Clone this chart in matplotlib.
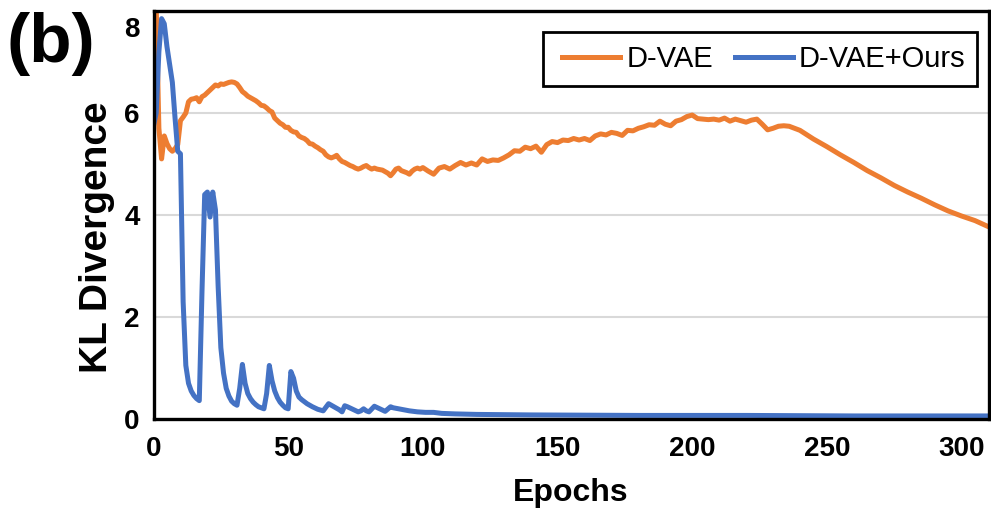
import matplotlib
matplotlib.use("Agg")
import matplotlib.pyplot as plt
from matplotlib.patches import Rectangle
from matplotlib.transforms import ScaledTranslation

plt.rcParams['font.family'] = ['Liberation Sans', 'DejaVu Sans']

# D-VAE: KL divergence per epoch
dvae_epochs = [0, 1, 2, 3, 4, 5, 6, 7, 8, 9, 10, 11, 12, 13, 14, 15, 16, 17, 18, 19,
               20, 21, 22, 23, 24, 25, 26, 27, 28, 29, 30, 31, 32, 33, 34, 35, 36, 37,
               38, 39, 40, 41, 42, 43, 44, 45, 46, 47, 48, 49, 50, 51, 52, 53, 54, 55,
               56, 57, 58, 59, 60, 61, 62, 63, 64, 65, 66, 67, 68, 69, 70, 71, 72, 73,
               74, 75, 76, 77, 78, 79, 80, 81, 82, 83, 84, 85, 86, 87, 88, 89, 90, 91,
               92, 93, 94, 95, 96, 97, 98, 99,
               100, 102, 104, 106, 108, 110, 112, 114, 116, 118, 120, 122, 124, 126,
               128, 130, 132, 134, 136, 138, 140, 142, 144, 146, 148, 150, 152, 154,
               156, 158, 160, 162, 164, 166, 168, 170, 172, 174, 176, 178, 180, 182,
               184, 186, 188, 190, 192, 194, 196, 198, 200, 202, 204, 206, 208, 210,
               212, 214, 216, 218, 220, 222, 224, 226, 228, 230, 232, 234, 236, 238,
               240, 245, 250, 255, 260, 265, 270, 275, 280, 285, 290, 295, 300, 305, 310]
dvae_kl = [8.6, 8.1, 5.7, 5.1, 5.55, 5.4, 5.3, 5.25, 5.3, 5.38, 5.85, 5.92, 6.0, 6.22,
           6.27, 6.28, 6.3, 6.22, 6.32, 6.35, 6.4, 6.45, 6.5, 6.55, 6.53, 6.57, 6.56,
           6.58, 6.6, 6.61, 6.6, 6.57, 6.5, 6.42, 6.38, 6.33, 6.3, 6.27, 6.24, 6.2,
           6.15, 6.14, 6.1, 6.05, 6.02, 5.9, 5.85, 5.8, 5.77, 5.72, 5.72, 5.66, 5.63,
           5.62, 5.55, 5.52, 5.5, 5.46, 5.4, 5.39, 5.35, 5.32, 5.28, 5.25, 5.18, 5.14,
           5.12, 5.14, 5.17, 5.1, 5.05, 5.03, 5.0, 4.97, 4.95, 4.92, 4.9, 4.92, 4.95,
           4.97, 4.93, 4.9, 4.92, 4.9, 4.89, 4.88, 4.85, 4.82, 4.77, 4.83, 4.9, 4.92,
           4.87, 4.85, 4.83, 4.8, 4.86, 4.9, 4.92, 4.9,
           4.93, 4.86, 4.8, 4.92, 4.95, 4.9, 4.97, 5.03, 4.98, 5.02, 4.98, 5.1, 5.05,
           5.08, 5.07, 5.12, 5.18, 5.26, 5.25, 5.33, 5.3, 5.35, 5.23, 5.38, 5.44, 5.42,
           5.47, 5.46, 5.5, 5.47, 5.5, 5.46, 5.55, 5.59, 5.57, 5.62, 5.6, 5.56, 5.66,
           5.65, 5.7, 5.73, 5.77, 5.76, 5.84, 5.78, 5.75, 5.84, 5.87, 5.93, 5.96, 5.89,
           5.88, 5.87, 5.88, 5.86, 5.9, 5.84, 5.88, 5.85, 5.82, 5.86, 5.88, 5.78, 5.67,
           5.7, 5.74, 5.75, 5.74, 5.7, 5.66, 5.49, 5.34, 5.18, 5.03, 4.87, 4.73, 4.58,
           4.45, 4.33, 4.2, 4.08, 3.98, 3.89, 3.77]

# D-VAE+Ours: KL divergence per epoch
ours_epochs = [0, 1, 2, 3, 4, 5, 6, 7, 8, 9, 10, 11, 12, 13, 14, 15, 16, 17, 18, 19,
               20, 21, 22, 23, 24, 25, 26, 27, 28, 29, 30, 31, 32, 33, 34, 35, 36, 37,
               38, 39, 40, 41, 42, 43, 44, 45, 46, 47, 48, 49, 50, 51, 52, 53, 54, 55,
               57, 59, 61, 63, 65, 67, 69, 70, 71, 72, 74, 76, 77, 78, 79, 80, 82, 84,
               86, 88, 89, 91, 93, 95, 98, 101, 104, 107, 112, 120, 140, 180, 220, 260,
               310]
ours_kl = [5.75, 6.0, 7.2, 7.85, 7.75, 7.3, 6.95, 6.6, 5.9, 5.25, 5.2, 2.3, 1.05, 0.7,
           0.55, 0.46, 0.4, 0.36, 2.5, 4.4, 4.45, 3.96, 4.45, 4.1, 2.6, 1.4, 0.9, 0.6,
           0.45, 0.35, 0.3, 0.27, 0.6, 1.07, 0.7, 0.5, 0.4, 0.33, 0.28, 0.24, 0.22, 0.2,
           0.5, 1.05, 0.75, 0.55, 0.42, 0.33, 0.27, 0.22, 0.2, 0.93, 0.8, 0.55, 0.43,
           0.38, 0.3, 0.24, 0.19, 0.16, 0.3, 0.24, 0.18, 0.14, 0.26, 0.24, 0.19, 0.14,
           0.16, 0.2, 0.16, 0.14, 0.25, 0.2, 0.15, 0.24, 0.22, 0.2, 0.18, 0.16, 0.14,
           0.13, 0.13, 0.11, 0.1, 0.09, 0.08, 0.07, 0.07, 0.06, 0.06]

y_ticks = [0, 2, 4, 6, 8]
x_ticks = [0, 50, 100, 150, 200, 250, 300]

W, H = 991, 511
fig = plt.figure(figsize=(W / 100, H / 100), dpi=100)
ax = fig.add_axes([153.5 / W, (H - 419) / H, (988.5 - 153.5) / W, (419 - 11) / H])

ax.plot(dvae_epochs, dvae_kl, color='#ED7D31', lw=3.6, label='D-VAE',
        solid_joinstyle='round', zorder=3)
ax.plot(ours_epochs, ours_kl, color='#4472C4', lw=3.6, label='D-VAE+Ours',
        solid_joinstyle='round', zorder=4)

ax.set_xlim(0, 310)
ax.set_ylim(0, 8)
ax.set_xticks(x_ticks)
ax.set_yticks(y_ticks)
ax.grid(axis='y', color='#D9D9D9', lw=1.5, zorder=0)
ax.set_axisbelow(True)

for s in ax.spines.values():
    s.set_linewidth(2.4)
    s.set_color('black')
    s.set_zorder(5)

ax.tick_params(length=0, labelsize=20, pad=12)
for lbl in ax.get_xticklabels() + ax.get_yticklabels():
    lbl.set_fontweight('bold')
ax.tick_params(axis='y', pad=10)
# keep the top label clear of the frame
top = ax.get_yticklabels()[-1]
top.set_transform(top.get_transform() + ScaledTranslation(0, -0.16, fig.dpi_scale_trans))

ax.set_xlabel('Epochs', fontsize=23, fontweight='bold', labelpad=12)
ax.set_ylabel('KL Divergence', fontsize=28, fontweight='bold')
ax.yaxis.set_label_coords(-0.046, 0.446)

leg = ax.legend(loc='center left', bbox_to_anchor=(562 / W, (H - 59) / H),
                bbox_transform=fig.transFigure, ncol=2, fontsize=21,
                frameon=False, handlelength=2.0, handletextpad=0.2,
                columnspacing=0.75, borderpad=0, borderaxespad=0)
fig.patches.append(Rectangle((543 / W, (H - 86) / H), (977 - 543) / W, 54 / H,
                             transform=fig.transFigure, fill=False,
                             edgecolor='black', lw=2.0, zorder=6))

fig.text(51 / W, (H - 44) / H, '(b)', fontsize=50, fontweight='bold',
         ha='center', va='center')

fig.savefig('out.png', dpi=100)
